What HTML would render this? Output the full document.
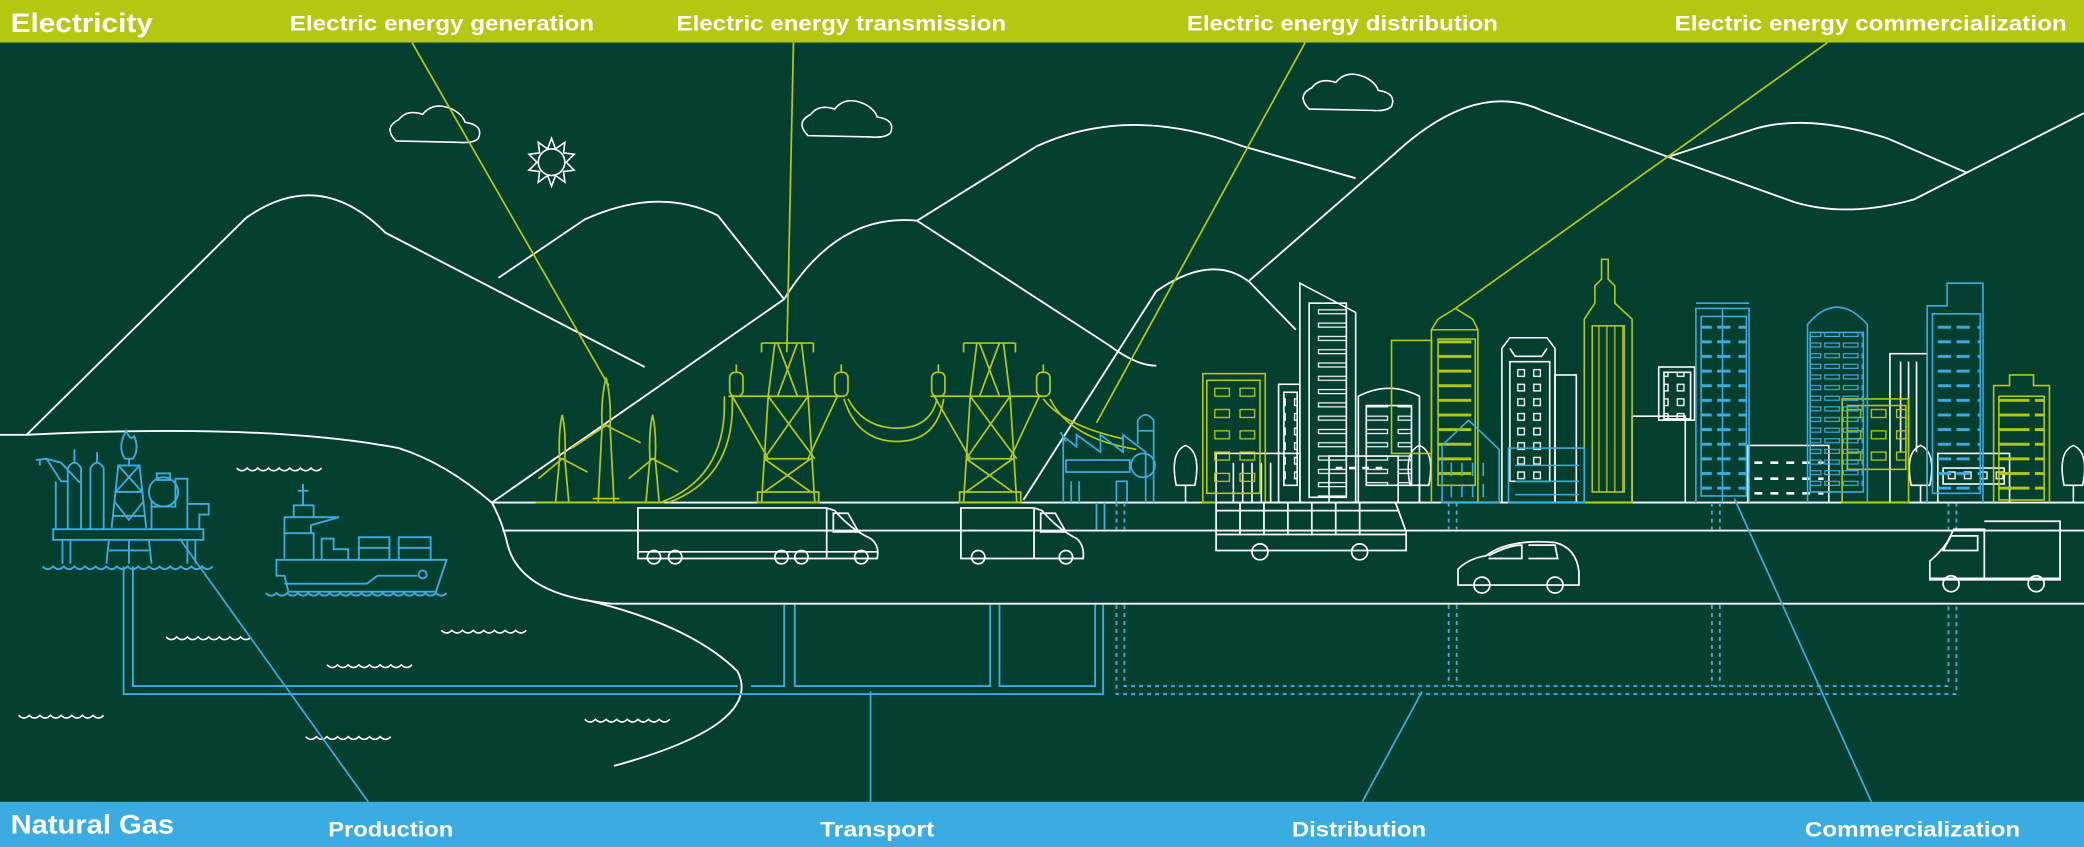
<!DOCTYPE html>
<html><head><meta charset="utf-8"><style>
html,body{margin:0;padding:0;background:#033f2e;}
svg{display:block}
</style></head><body>
<svg width="2084" height="847" viewBox="0 0 1568 637" preserveAspectRatio="none" xmlns="http://www.w3.org/2000/svg">
<defs>
<pattern id="pw" width="30" height="10" patternUnits="userSpaceOnUse"><rect x="2" y="3" width="22" height="3" fill="none" stroke="#fff" stroke-width="0.9"/></pattern>
<pattern id="pg" width="30" height="11" patternUnits="userSpaceOnUse"><rect x="1" y="3" width="26" height="2.2" fill="#b5c90f"/></pattern>
<pattern id="pb" width="30" height="11" patternUnits="userSpaceOnUse"><rect x="2" y="3" width="10" height="2.2" fill="#3aace2"/><rect x="18" y="3" width="10" height="2.2" fill="#3aace2"/></pattern>
<pattern id="pgw" width="19" height="16" patternUnits="userSpaceOnUse"><rect x="2" y="4" width="11" height="6" fill="none" stroke="#b5c90f" stroke-width="1"/></pattern>
<pattern id="psq" width="12" height="11" patternUnits="userSpaceOnUse"><rect x="2" y="3" width="5" height="5" fill="none" stroke="#fff" stroke-width="1"/></pattern>
<pattern id="pbw" width="14" height="8" patternUnits="userSpaceOnUse"><rect x="1" y="2" width="11" height="3" fill="none" stroke="#3aace2" stroke-width="0.9"/></pattern>
<pattern id="pv" width="6" height="10" patternUnits="userSpaceOnUse"><line x1="3" y1="0" x2="3" y2="10" stroke="#b5c90f" stroke-width="1"/></pattern>
</defs>
<rect width="1568" height="637" fill="#033f2e"/>
<!-- mountains -->
<g fill="none" stroke="#fff" stroke-width="1.4">
<path d="M20 327 L185 164 Q240 125 290 175 L485 276"/>
<path d="M375 209 L440 165 Q495 140 540 162 L590 225"/>
<path d="M370 378 L590 225 Q630 160 690 166 L835 260 Q855 275 870 275"/>
<path d="M690 166 L780 110 Q850 78 935 110 L1020 134"/>
<path d="M940 211 L1050 115 Q1110 60 1160 83 L1255 118 L1350 152 Q1390 164 1440 150 L1568 85"/>
<path d="M1255 118 L1320 97 Q1360 85 1420 104 L1480 130"/>
<path d="M770 376 L870 219 Q912 190 940 212 L975 248"/>
<path d="M0 327 L20 327 Q200 318 300 337 Q335 348 370 378 L1568 378"/>
<path d="M370 378 Q378 392 382 410 Q392 448 460 454 L1568 454"/>
<path d="M378 399 L1568 399"/>
<path d="M440 451 Q520 470 555 505 Q575 545 462 576"/>
</g>
<!-- clouds and sun -->
<g fill="none" stroke="#fff" stroke-width="1.2">
<path d="M298 106 Q288 96 300 90 Q306 82 318 86 Q326 76 340 82 Q348 86 350 92 Q364 94 360 104 Q356 108 345 107 Z"/>
<path d="M608 102 Q598 92 610 86 Q616 78 628 82 Q636 72 650 78 Q658 82 660 88 Q674 90 670 100 Q666 104 655 103 Z"/>
<path d="M985 82 Q975 72 987 66 Q993 58 1005 62 Q1013 52 1027 58 Q1035 62 1037 68 Q1051 70 1047 80 Q1043 84 1032 83 Z"/>
<circle cx="415" cy="122" r="10"/>
<path d="M415 104 L418 112 L425 107 L424 115 L432 116 L426 122 L432 128 L424 129 L425 137 L418 132 L415 140 L412 132 L405 137 L406 129 L398 128 L404 122 L398 116 L406 115 L405 107 L412 112 Z"/>
</g>
<!-- waves -->
<g fill="none" stroke="#fff" stroke-width="1.2">
<path d="M178 352 q4 4 8 0 q4 4 8 0 q4 4 8 0 q4 4 8 0 q4 4 8 0 q4 4 8 0 q4 4 8 0 q4 4 8 0"/>
<path d="M125 479 q4 4 8 0 q4 4 8 0 q4 4 8 0 q4 4 8 0 q4 4 8 0 q4 4 8 0 q4 4 8 0 q4 4 8 0"/>
<path d="M332 474 q4 4 8 0 q4 4 8 0 q4 4 8 0 q4 4 8 0 q4 4 8 0 q4 4 8 0 q4 4 8 0 q4 4 8 0"/>
<path d="M246 500 q4 4 8 0 q4 4 8 0 q4 4 8 0 q4 4 8 0 q4 4 8 0 q4 4 8 0 q4 4 8 0 q4 4 8 0"/>
<path d="M14 538 q4 4 8 0 q4 4 8 0 q4 4 8 0 q4 4 8 0 q4 4 8 0 q4 4 8 0 q4 4 8 0 q4 4 8 0"/>
<path d="M440 541 q4 4 8 0 q4 4 8 0 q4 4 8 0 q4 4 8 0 q4 4 8 0 q4 4 8 0 q4 4 8 0 q4 4 8 0"/>
<path d="M230 554 q4 4 8 0 q4 4 8 0 q4 4 8 0 q4 4 8 0 q4 4 8 0 q4 4 8 0 q4 4 8 0 q4 4 8 0"/>
</g>
<!-- gas pipes -->
<g fill="none" stroke="#3aace2" stroke-width="1.4">
<path d="M93 426 L93 522 L830 522 L830 455"/>
<path d="M100 426 L100 516 L555 516"/>
<path d="M565 516 L590 516 L590 455 M598 455 L598 516 L745 516 L745 455 M752 455 L752 516 L824 516 L824 455"/>
<path d="M825 378 L825 398 M831 378 L831 398"/>
<g stroke-dasharray="3 3">
<path d="M840 455 L840 522 L1472 522 L1472 455"/>
<path d="M846 455 L846 516 L1466 516 L1466 455"/>
<path d="M1090 378 L1090 398 M1096 378 L1096 398 M1090 455 L1090 516 M1096 455 L1096 516"/>
<path d="M1288 378 L1288 398 M1294 378 L1294 398 M1288 455 L1288 516 M1294 455 L1294 516"/>
<path d="M1466 378 L1466 398 M1472 378 L1472 398 M840 378 L840 398 M846 378 L846 398"/>
</g>
<path d="M135 405 L277 603 M655 520 L655 603 M1070 520 L1025 603 M1305 375 L1408 603" stroke-width="1.3"/>
</g>
<g fill="none" stroke="#b5c90f" stroke-width="1.3">
<path d="M310 32 L458 290 M597 32 L592 265 M982 32 L825 318 M1375 32 L1095 232"/>
</g>
<!-- oil rig -->
<g fill="none" stroke="#3aace2" stroke-width="1.4">
<rect x="40" y="398" width="113" height="8"/>
<path d="M47 406 V424 M53 406 V424 M141 406 V424 M147 406 V424 M82 406 L80 424 M112 406 L114 424 M97 406 V424 M82 414 H112"/>
<path d="M51 398 V352 Q56 344 61 352 V398 M68 398 V352 Q73 344 78 352 V398 M56 348 V338 M73 348 V340"/>
<path d="M84 397 L89 350 L105 350 L110 397 M89 350 H105 M87 370 H107 M85 388 H109 M89 350 L107 370 M105 350 L87 370 M86 377 L97 391 L108 377 M97 350 V345"/>
<path d="M94 345 Q88 336 95 324 Q98 332 101 328 Q105 338 100 345 Z"/>
<circle cx="123" cy="370" r="11"/><rect x="118" y="356" width="10" height="5"/>
<path d="M114 398 V376 M114 381 H132 V360 H141 V398 M141 379 H157 V387 H150 V398"/>
<path d="M27 346 L35 345 L46 348 L60 363 M30 346 V350 M35 345 L46 362 H51 M42 362 V398"/>
<path d="M32 426 q4 4 8 0 q4 4 8 0 q4 4 8 0 q4 4 8 0 q4 4 8 0 q4 4 8 0 q4 4 8 0 q4 4 8 0 q4 4 8 0 q4 4 8 0 q4 4 8 0 q4 4 8 0 q4 4 8 0 q4 4 8 0 q4 4 8 0 q4 4 8 0"/>
</g>
<!-- ship -->
<g fill="none" stroke="#3aace2" stroke-width="1.4">
<path d="M228 380 V364 M224 369 H232 M221 389 V380 H236 V389"/>
<path d="M214 420 V389 H255 L234 395 V401 H214 M214 401 H236 V421"/>
<path d="M242 421 V405 H251 V413 H262 V421"/>
<rect x="270" y="404" width="23" height="17"/><path d="M270 412 H293"/>
<rect x="300" y="404" width="24" height="17"/><path d="M300 412 H324"/>
<path d="M208 421 H336 L328 445 H217 L214 433 H208 Z M214 439 H276 L284 433 H314"/>
<circle cx="318" cy="432" r="3"/>
<path d="M200 446 q4 4 8 0 q4 4 8 0 q4 4 8 0 q4 4 8 0 q4 4 8 0 q4 4 8 0 q4 4 8 0 q4 4 8 0 q4 4 8 0 q4 4 8 0 q4 4 8 0 q4 4 8 0 q4 4 8 0 q4 4 8 0 q4 4 8 0 q4 4 8 0 q4 4 8 0"/>
</g>
<!-- turbines -->
<g fill="none" stroke="#b5c90f" stroke-width="1.3">
<path d="M403 378 H500"/>
<path d="M418 378 L421 345 L425 345 L428 378 M421 345 Q420 325 423 312 Q426 325 425 345 M423 345 L405 360 M423 345 L442 355"/>
<path d="M450 378 L453 320 L459 320 L462 378 M453 320 Q452 300 456 284 Q460 300 459 320 M456 320 L430 337 M456 320 L482 333 M446 375 H466"/>
<path d="M486 378 L489 345 L493 345 L496 378 M489 345 Q488 325 491 312 Q494 325 493 345 M491 345 L473 360 M491 345 L510 355"/>
<path d="M497 378 Q545 360 545 305 L545 298 M503 378 Q551 360 551 305 L551 298"/>
</g>
<!-- pylons -->
<g fill="none" stroke="#b5c90f" stroke-width="1.3">
<g id="pyl">
<path d="M548 298 H633 M583 258 L578 298 L573 378 M603 258 L608 298 L613 378 M573 258 V265 M612 258 V265 M573 258 H612"/>
<path d="M585 258 L600 298 M600 258 L585 298 M578 298 L613 345 M608 298 L575 345 M575 345 L610 370 M610 345 L575 370 M575 345 H611"/>
<path d="M551 298 L578 345 M630 298 L608 345"/>
<path d="M570 370 H616 V378 H570 Z"/>
<rect x="549" y="280" width="10" height="18" rx="4"/>
<rect x="628" y="280" width="10" height="18" rx="4"/>
<path d="M554 280 V274 M633 280 V274"/>
</g>
<use href="#pyl" transform="translate(152,0)"/>
<path d="M638 300 Q650 322 675 322 Q700 322 705 300 M635 300 Q645 332 675 332 Q705 332 710 300"/>
<path d="M785 300 Q800 320 845 330 M790 300 Q805 330 855 338"/>
</g>
<!-- factory -->
<g fill="none" stroke="#3aace2" stroke-width="1.3">
<path d="M800 378 V328 L810 336 V327 L828 340 V327 L845 340 V327 L862 340 V378 M798 325 L802 332"/>
<rect x="802" y="346" width="48" height="9"/>
<circle cx="860" cy="350" r="9"/>
<path d="M856 334 V316 Q862 308 868 316 V378 M856 324 H868"/>
<path d="M806 378 V362 M812 378 V362 M840 378 V362 H848 V378"/>
</g>
<!-- buildings white -->
<g fill="none" stroke="#fff" stroke-width="1.2">
<path d="M978 378 V213 L1020 235 V378"/>
<rect x="985" y="228" width="28" height="146" fill="url(#pw)"/>
<rect x="962" y="289" width="16" height="89"/>
<rect x="966" y="295" width="10" height="70" fill="url(#psq)"/>
<path d="M1022 378 V298 Q1045 286 1068 298 V378"/>
<rect x="1028" y="305" width="34" height="60" fill="url(#pw)"/>
<path d="M1130 378 V262 L1136 254 H1164 L1170 262 V378 M1136 262 L1140 268 H1160 L1164 262"/>
<rect x="1136" y="272" width="30" height="90" fill="url(#psq)"/>
<rect x="1170" y="282" width="16" height="96"/>
<rect x="1228" y="313" width="40" height="65"/>
<rect x="1248" y="276" width="27" height="40"/>
<rect x="1252" y="280" width="20" height="35" fill="url(#psq)"/>
<rect x="1315" y="335" width="61" height="43"/>
<path d="M1320 348 H1372 M1320 360 H1372 M1320 371 H1372" stroke-dasharray="6 6" stroke-width="2"/>
<rect x="1422" y="266" width="28" height="112"/>
<path d="M1430 272 V340 M1436 272 V340 M1442 272 V340"/>
<rect x="1458" y="341" width="54" height="37"/>
<rect x="1462" y="352" width="46" height="12" fill="url(#psq)"/>
<rect x="915" y="341" width="63" height="37"/>
<path d="M928 348 V378 M935 348 V378 M942 348 V378 M949 348 V378 M956 348 V378"/>
<rect x="1000" y="343" width="52" height="35"/>
<path d="M1005 352 H1045" stroke-dasharray="5 5" stroke-width="2"/>
<path d="M892 378 V365 M885 365 Q880 340 892 335 Q904 340 899 365 Z"/>
<path d="M1068 378 V365 M1061 365 Q1056 340 1068 335 Q1080 340 1075 365 Z"/>
<path d="M1445 378 V365 M1438 365 Q1433 340 1445 335 Q1457 340 1452 365 Z"/>
<path d="M1560 378 V365 M1553 365 Q1548 340 1560 335 Q1572 340 1567 365 Z"/>
</g>
<!-- buildings green -->
<g fill="none" stroke="#b5c90f" stroke-width="1.2">
<rect x="905" y="281" width="47" height="97"/>
<rect x="908" y="286" width="40" height="85" fill="url(#pgw)"/>
<rect x="1047" y="256" width="30" height="85"/>
<path d="M1077 378 V248 L1082 240 L1095 232 L1108 240 L1112 248 V378 M1077 248 H1112"/>
<rect x="1082" y="255" width="28" height="110" fill="url(#pg)"/>
<path d="M1192 378 V240 L1200 228 V215 L1205 210 V195 L1210 195 V210 L1215 215 V228 L1228 240 V378 Z"/>
<rect x="1198" y="245" width="24" height="125" fill="url(#pv)"/>
<rect x="1386" y="300" width="50" height="78"/>
<rect x="1390" y="305" width="44" height="48" fill="url(#pgw)"/>
<path d="M1500 378 V290 H1512 V282 H1530 V290 H1542 V378"/>
<rect x="1504" y="298" width="34" height="78" fill="url(#pg)"/>
</g>
<!-- buildings blue -->
<g fill="none" stroke="#3aace2" stroke-width="1.2">
<path d="M1085 378 V335 L1105 316 L1128 338 V378 Z"/>
<path d="M1092 348 V358 M1100 348 V358 M1108 348 V358 M1116 348 V358 M1092 364 V374 M1100 364 V374 M1108 364 V374 M1116 364 V374"/>
<rect x="1135" y="337" width="57" height="41"/>
<path d="M1140 350 H1188 M1140 362 H1188 M1140 372 H1188"/>
<path d="M1276 378 V232 H1316 V378 M1276 228 H1316 M1296 232 V378"/>
<rect x="1280" y="238" width="34" height="135" fill="url(#pb)"/>
<path d="M1360 378 V244 Q1382 218 1405 244 V378"/>
<rect x="1362" y="250" width="40" height="120" fill="url(#pbw)"/>
<path d="M1450 378 V230 H1465 V213 H1492 V378"/>
<rect x="1454" y="236" width="36" height="135" fill="url(#pb)"/>
</g>
<!-- vehicles -->
<g fill="none" stroke="#fff" stroke-width="1.3">
<path d="M480 416 V382 H622 L628 384 Q640 398 655 405 Q662 410 660 420 H480 Z M622 382 V420 M627 386 H638 L646 400 H627 Z M480 415 H660"/>
<circle cx="492" cy="419" r="5"/><circle cx="508" cy="419" r="5"/><circle cx="588" cy="419" r="5"/><circle cx="603" cy="419" r="5"/><circle cx="648" cy="419" r="5"/>
<path d="M723 416 V382 H778 L784 384 Q796 398 810 405 Q816 410 815 420 H723 Z M778 382 V420 M783 386 H794 L802 400 H783 Z"/>
<circle cx="736" cy="419" r="5"/><circle cx="802" cy="419" r="5"/>
<path d="M915 378 H1050 L1058 400 V414 H915 Z M915 384 H1052 M915 402 H1058 M933 378 V402 M951 378 V402 M969 378 V402 M987 378 V402 M1005 378 V402 M1023 378 V402"/>
<circle cx="948" cy="415" r="6"/><circle cx="1023" cy="415" r="6"/>
<path d="M1097 440 V428 Q1105 420 1118 418 Q1135 405 1170 408 Q1186 412 1188 430 V440 Z M1120 418 Q1135 410 1145 410 V420 H1120 M1150 410 H1170 L1172 420 H1150"/>
<circle cx="1115" cy="440" r="6"/><circle cx="1170" cy="440" r="6"/>
<path d="M1452 436 V422 Q1460 415 1465 408 L1470 398 H1493 V436 Z M1493 392 H1550 V436 H1493 M1468 403 H1488 V414 H1462 Z M1452 435 H1550"/>
<circle cx="1468" cy="439" r="6"/><circle cx="1532" cy="439" r="6"/>
</g>
<!-- bars -->
<rect x="0" y="0" width="1568" height="32" fill="#b2c90f"/>
<rect x="0" y="603" width="1568" height="34" fill="#3aace2"/>
<g font-family="'Liberation Sans Narrow','Liberation Sans',sans-serif" font-weight="bold" fill="#fff">
<text x="8" y="24" font-size="20" textLength="107" lengthAdjust="spacingAndGlyphs">Electricity</text>
<text x="218" y="23" font-size="16" textLength="229" lengthAdjust="spacingAndGlyphs">Electric energy generation</text>
<text x="509" y="23" font-size="16" textLength="248" lengthAdjust="spacingAndGlyphs">Electric energy transmission</text>
<text x="893" y="23" font-size="16" textLength="234" lengthAdjust="spacingAndGlyphs">Electric energy distribution</text>
<text x="1260" y="23" font-size="16" textLength="295" lengthAdjust="spacingAndGlyphs">Electric energy commercialization</text>
<text x="8" y="627" font-size="20" textLength="123" lengthAdjust="spacingAndGlyphs">Natural Gas</text>
<text x="247" y="629" font-size="16" textLength="94" lengthAdjust="spacingAndGlyphs">Production</text>
<text x="617" y="629" font-size="16" textLength="86" lengthAdjust="spacingAndGlyphs">Transport</text>
<text x="972" y="629" font-size="16" textLength="101" lengthAdjust="spacingAndGlyphs">Distribution</text>
<text x="1358" y="629" font-size="16" textLength="162" lengthAdjust="spacingAndGlyphs">Commercialization</text>
</g>
</svg>
</body></html>
